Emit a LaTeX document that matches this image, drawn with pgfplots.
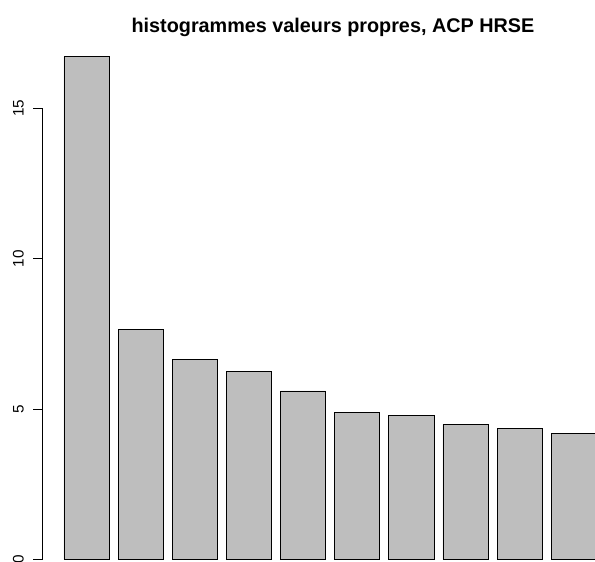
\documentclass[border=0pt]{standalone}
\usepackage{fontspec}
\setmainfont{Liberation Sans}
\usepackage{pgfplots}
\pgfplotsset{compat=1.18}
\definecolor{rgrey}{RGB}{190,190,190}
\begin{document}
\begin{tikzpicture}[x=1pt,y=1pt]
\begin{axis}[
  at={(0,0)}, anchor=south west,
  scale only axis, width=552.3pt, height=562pt,
  xmin=-0.272, xmax=11.97, ymin=-0.09, ymax=18.6,
  axis x line=none, axis y line*=left,
  y axis line style={draw=none},
  ytick={0,5,10,15},
  tick align=outside, major tick length=9.7pt,
  ytick style={black, line width=0.8pt},
  yticklabel style={font=\fontsize{15.3}{16}\selectfont, inner sep=0pt,
    xshift=-9pt, rotate=90, anchor=south},
  /pgf/number format/assume math mode=true,
  ybar, bar width=1, bar shift=0pt,
  clip mode=individual,
]
\addplot[draw=black, fill=rgrey, line width=0.8pt] coordinates {
  (0.7,16.71) (1.9,7.65) (3.1,6.65) (4.3,6.25) (5.5,5.60)
  (6.7,4.89) (7.9,4.79) (9.1,4.49) (10.3,4.34) (11.5,4.19)};
\draw[line width=0.8pt] (axis cs:-0.272,0) -- (axis cs:-0.272,15);
\end{axis}
\node[anchor=base, font=\bfseries\fontsize{19.8}{22}\selectfont]
  at (290.3,529.7) {histogrammes valeurs propres, ACP HRSE};
\pgfresetboundingbox
\path[use as bounding box] (-42.7,0) rectangle (552.3,562);
\end{tikzpicture}
\end{document}
